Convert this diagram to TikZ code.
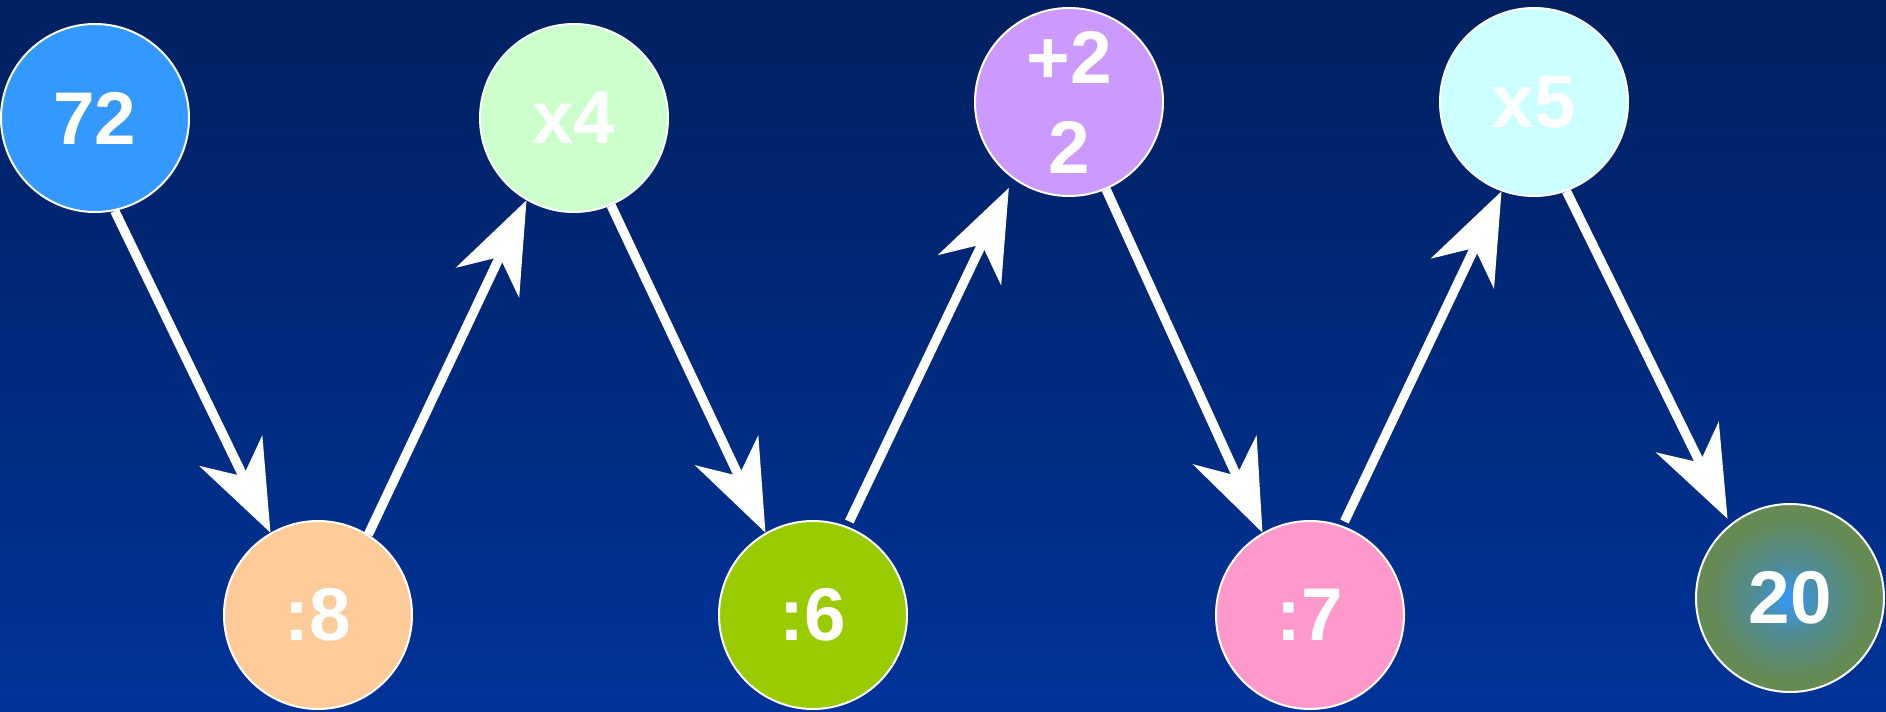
\documentclass[tikz,border=0pt]{standalone}
\usepackage{fontspec}
\setmainfont{Liberation Sans}
\usetikzlibrary{arrows.meta}

\definecolor{bgtop}{RGB}{0,32,96}
\definecolor{bgbottom}{RGB}{0,51,153}
\definecolor{cblue}{RGB}{51,153,255}
\definecolor{cpeach}{RGB}{255,204,153}
\definecolor{cmint}{RGB}{204,255,204}
\definecolor{clime}{RGB}{153,204,0}
\definecolor{clilac}{RGB}{204,153,255}
\definecolor{cice}{RGB}{204,255,255}
\definecolor{cpink}{RGB}{255,153,204}
\definecolor{colive}{RGB}{102,138,84}
\definecolor{cmixed}{RGB}{80,140,150}

\pgfdeclareradialshading{glowball}{\pgfpoint{0bp}{0bp}}{color(0bp)=(cblue); color(9bp)=(cmixed); color(22bp)=(colive); color(50bp)=(colive)}

\tikzset{every picture/.style={line width=0.75pt}}
\tikzset{
  num/.style={circle, draw=white, line width=1.5pt, minimum size=141pt, inner sep=0pt,
    text=white, font=\fontsize{56}{67.5}\selectfont\bfseries, align=center},
  hop/.style={draw=white, line width=7pt, -{Stealth[length=68pt,width=52pt,inset=21pt]}}
}

\begin{document}
\begin{tikzpicture}[x=0.75pt,y=0.75pt,yscale=-1,xscale=1]
        \useasboundingbox (0,0) rectangle (1886,711);
        % background
        \fill [top color=bgtop, bottom color=bgbottom] (0,0) rectangle (1886,711);
        % upper row
        \node [num, fill=cblue] (n72) at (95,118) {72};
        \node [num, fill=cmint] (nx4) at (574,118) {x4};
        \node [num, fill=clilac] (np2) at (1069,102) {+2\\2};
        \node [num, fill=cice] (nx5) at (1534,102) {x5};
        % lower row
        \node [num, fill=cpeach] (n8) at (318,615) {:8};
        \node [num, fill=clime] (n6) at (813,615) {:6};
        \node [num, fill=cpink] (n7) at (1310,615) {:7};
        \node [num, shading=glowball] (n20) at (1790,598) {20};
        % arrows
        \draw [hop] (n72.282) -- (n8.120);
        \draw [hop] (n8.58) -- (nx4.240);
        \draw [hop] (nx4.293) -- (n6.120);
        \draw [hop, shorten <=4pt, shorten >=7.5pt] (n6.69) -- (np2.234);
        \draw [hop] (np2.293) -- (n7.120);
        \draw [hop, shorten <=3.5pt] (n7.70) -- (nx5.250);
        \draw [hop, shorten >=4.5pt] (nx5.290) -- (n20.129);
\end{tikzpicture}
\end{document}
